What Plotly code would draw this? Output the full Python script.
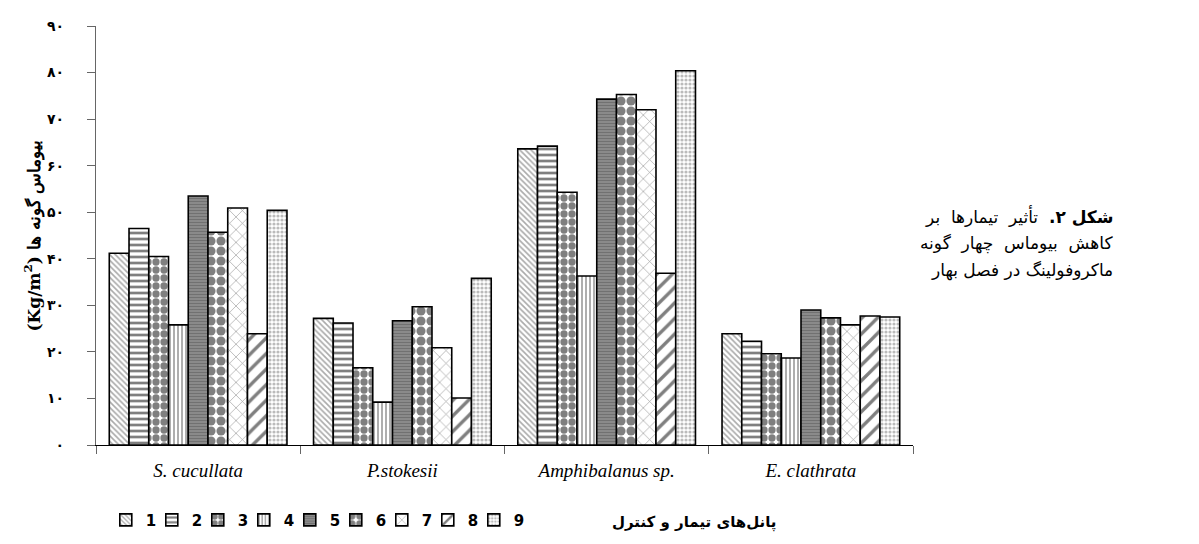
import plotly.graph_objects as go

species = ["S. cucullata", "P.stokesii", "Amphibalanus sp.", "E. clathrata"]
panels = ["1", "2", "3", "4", "5", "6", "7", "8", "9"]

# biomass (Kg/m2) per panel, one list per panel across the four species
p1 = [41.2, 27.2, 63.6, 23.9]
p2 = [46.5, 26.2, 64.2, 22.3]
p3 = [40.5, 16.6, 54.3, 19.6]
p4 = [25.8, 9.2, 36.3, 18.7]
p5 = [53.5, 26.7, 74.3, 29.0]
p6 = [45.7, 29.7, 75.3, 27.3]
p7 = [50.9, 20.9, 72.0, 25.8]
p8 = [23.9, 10.1, 36.9, 27.7]
p9 = [50.4, 35.8, 80.4, 27.5]
values = [p1, p2, p3, p4, p5, p6, p7, p8, p9]

y_ticks = [0, 10, 20, 30, 40, 50, 60, 70, 80, 90]
y_ticktext = ["۰", "۱۰", "۲۰", "۳۰", "۴۰", "۵۰", "۶۰", "۷۰", "۸۰", "۹۰"]

# pattern per panel: shape, fg, bg, size, solidity
patterns = [
    dict(shape="\\", fgcolor="#555555", bgcolor="white", size=4, solidity=0.4),
    dict(shape="-", fgcolor="black", bgcolor="white", size=6, solidity=0.45),
    dict(shape=".", fgcolor="black", bgcolor="white", size=8, solidity=0.65),
    dict(shape="|", fgcolor="#333333", bgcolor="white", size=4, solidity=0.4),
    dict(shape="-", fgcolor="#555555", bgcolor="#8c8c8c", size=3, solidity=0.4),
    dict(shape=".", fgcolor="black", bgcolor="white", size=10, solidity=0.65),
    dict(shape="x", fgcolor="#444444", bgcolor="white", size=9, solidity=0.15),
    dict(shape="/", fgcolor="black", bgcolor="white", size=11, solidity=0.3),
    dict(shape=".", fgcolor="#777777", bgcolor="white", size=4, solidity=0.5),
]

fig = go.Figure()
for name, vals, pat in zip(panels, values, patterns):
    fig.add_trace(go.Bar(
        x=species,
        y=vals,
        name=name,
        marker=dict(color="white", line=dict(color="black", width=1.6), pattern=pat),
    ))

# blank legend slot so the last entry's label is not clipped
fig.add_trace(go.Scatter(
    x=[None], y=[None], mode="markers", name=" ",
    marker=dict(color="rgba(0,0,0,0)"), hoverinfo="skip",
))

# the page body adds an 8px offset, so margins are 8px smaller on top/left
fig.update_layout(
    width=1199,
    height=544,
    barmode="group",
    bargap=0.13,
    bargroupgap=0,
    plot_bgcolor="white",
    paper_bgcolor="white",
    margin=dict(l=88, r=294, t=18, b=107, autoexpand=False),
    font=dict(family="DejaVu Sans", color="black"),
    showlegend=True,
    legend=dict(
        orientation="h",
        x=0.012, xanchor="left",
        y=-0.14, yanchor="top",
        font=dict(family="DejaVu Sans", size=15, weight="bold"),
        itemwidth=30,
        entrywidth=1,
        entrywidthmode="pixels",
        traceorder="normal",
    ),
    xaxis=dict(
        showline=True, linecolor="black", linewidth=1.2,
        ticks="outside", ticklen=8, tickcolor="#666666",
        tickson="boundaries",
        tickfont=dict(family="Liberation Serif", size=19, style="italic"),
        ticklabelstandoff=8,
    ),
    yaxis=dict(
        range=[0, 90],
        tickvals=y_ticks,
        ticktext=y_ticktext,
        showline=True, linecolor="#666666", linewidth=1.2,
        ticks="outside", ticklen=8, tickcolor="#666666",
        showgrid=False, zeroline=False,
        tickfont=dict(family="DejaVu Sans", size=14, weight="bold"),
        ticklabelstandoff=20,
        title=dict(
            text="(Kg/m<sup>2</sup>) بیوماس گونه ها",
            font=dict(family="DejaVu Serif", size=17, weight="bold"),
            standoff=2,
        ),
    ),
)

fig.add_annotation(
    xref="paper", yref="paper",
    x=0.835, y=-0.185, xanchor="right", yanchor="middle",
    text="پانل‌های تیمار و کنترل",
    showarrow=False,
    font=dict(family="DejaVu Sans", size=15, weight="bold"),
)

caption = [
    "\u2067<b>شکل ۲.</b>  تأثیر  تیمارها  بر\u2069",
    "کاهش  بیوماس  چهار  گونه",
    "ماکروفولینگ در فصل بهار",
]
for i, line in enumerate(caption):
    fig.add_annotation(
        xref="paper", yref="paper",
        x=1.247, y=(445 - 216 - 27 * i) / 419,
        xanchor="right", yanchor="middle",
        text=line,
        showarrow=False,
        font=dict(family="DejaVu Sans", size=17),
    )

fig.write_html("out.html")
